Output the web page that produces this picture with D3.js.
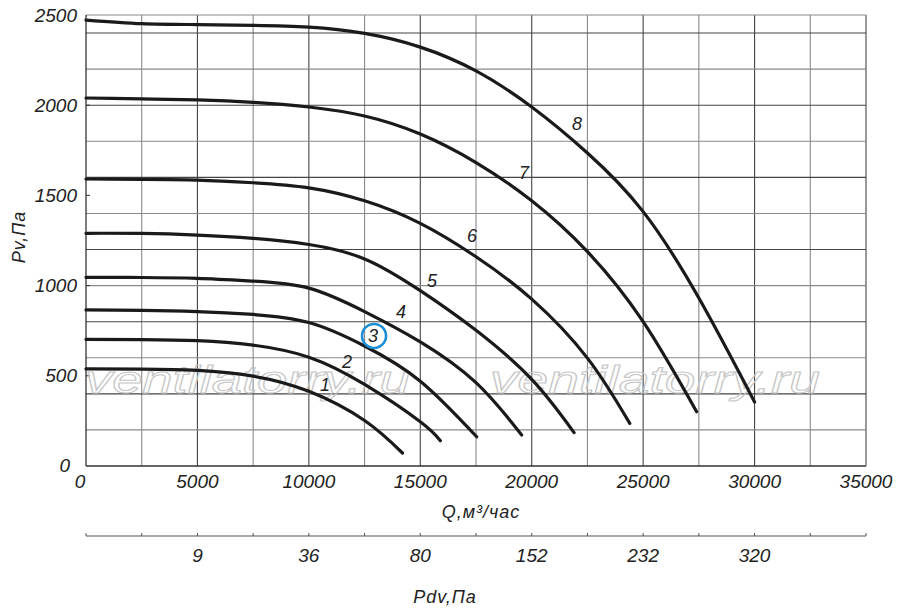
<!DOCTYPE html>
<html lang="ru">
<head>
<meta charset="UTF-8" />
<title>Pv-Q</title>
<script src="https://d3js.org/d3.v7.min.js"></script>
<style>
  body { margin: 0; background: #fff; }
  svg { display: block; }
  .lbl { font-family: "Liberation Sans", Arial, sans-serif; font-style: italic; fill: #222; }
</style>
</head>
<body>
<div id="chart"></div>
<script>
// Q axis (m3/h) and Pv (Pa)
const q8 = [0, 2500, 5000, 7500, 10000, 12500, 15000, 17500, 20000, 22500, 25000, 27500, 30000];
const p8 = [2472, 2452, 2447, 2443, 2433, 2398, 2322, 2190, 1990, 1735, 1410, 931, 355];
const q7 = [0, 2500, 5000, 7500, 10000, 12500, 15000, 17500, 20000, 22500, 25000, 27400];
const p7 = [2040, 2035, 2029, 2016, 1990, 1940, 1840, 1682, 1470, 1188, 800, 301];
const q6 = [0, 2500, 5000, 7500, 10000, 12500, 15000, 17500, 20000, 22500, 24400];
const p6 = [1591, 1589, 1585, 1570, 1542, 1470, 1345, 1160, 925, 598, 236];
const q5 = [0, 2500, 5000, 7500, 10000, 12500, 15000, 17500, 20000, 21900];
const p5 = [1290, 1289, 1280, 1262, 1228, 1148, 972, 752, 480, 185];
const q4 = [0, 2500, 5000, 7500, 10000, 12500, 15000, 17500, 19550];
const p4 = [1046, 1045, 1040, 1025, 986, 856, 688, 462, 172];
const q3 = [0, 2500, 5000, 7500, 10000, 12500, 15000, 17530];
const p3 = [865, 863, 856, 840, 795, 665, 470, 162];
const q2 = [0, 2500, 5000, 7500, 10000, 12500, 15000, 15900];
const p2 = [702, 701, 695, 670, 603, 452, 245, 140];
const q1 = [0, 2500, 5000, 7500, 10000, 12500, 14200];
const p1 = [538, 537, 530, 498, 414, 252, 72];

const curveNames = ["1", "2", "3", "4", "5", "6", "7", "8"];
const curveQ = [q1, q2, q3, q4, q5, q6, q7, q8];
const curveP = [p1, p2, p3, p4, p5, p6, p7, p8];
// where the number of each curve sits (Q, Pv)
const labelQ = [10720, 11710, 12880, 14130, 15530, 17320, 19650, 22030];
const labelP = [449, 576, 721, 854, 1025, 1275, 1624, 1896];

const qTicks = [0, 5000, 10000, 15000, 20000, 25000, 30000, 35000];
const pTicks = [0, 500, 1000, 1500, 2000, 2500];
const pdvAt = [5000, 10000, 15000, 20000, 25000, 30000];
const pdvText = ["9", "36", "80", "152", "232", "320"];

const W = 900, H = 609;
const svg = d3.select("#chart").append("svg")
    .attr("width", W).attr("height", H);

const x = d3.scaleLinear().domain([0, 35000]).range([86, 866]);
const y = d3.scaleLinear().domain([0, 2500]).range([466, 15]);

// grid
const grid = svg.append("g");
grid.selectAll("line.v")
    .data(d3.range(2500, 35001, 2500))
    .enter().append("line")
    .attr("x1", d => x(d)).attr("x2", d => x(d))
    .attr("y1", y(0)).attr("y2", y(2500))
    .attr("stroke", (d, i) => i % 2 ? "#444" : "#8a8a8a")
    .attr("stroke-width", 1.1);
grid.selectAll("line.h")
    .data(d3.range(200, 2401, 200).concat([2500]))
    .enter().append("line")
    .attr("x1", x(0)).attr("x2", x(35000))
    .attr("y1", d => y(d)).attr("y2", d => y(d))
    .attr("stroke", (d, i) => i % 2 ? "#444" : "#8a8a8a")
    .attr("stroke-width", 1.1);

// axes frame
svg.append("line").attr("x1", x(0)).attr("x2", x(0))
    .attr("y1", y(0)).attr("y2", y(2500)).attr("stroke", "#333").attr("stroke-width", 1.3);
svg.append("line").attr("x1", x(0)).attr("x2", x(35000))
    .attr("y1", y(0)).attr("y2", y(0)).attr("stroke", "#333").attr("stroke-width", 1.3);
svg.selectAll("line.yt")
    .data(pTicks.slice(1, -1))
    .enter().append("line")
    .attr("x1", x(0)).attr("x2", x(0) + 4)
    .attr("y1", d => y(d)).attr("y2", d => y(d))
    .attr("stroke", "#333");

// watermark
const wm = svg.append("g");
[[85, 410], [490, 820]].forEach(([a, b]) => {
  wm.append("text")
    .attr("x", a).attr("y", 393)
    .attr("textLength", b - a)
    .attr("lengthAdjust", "spacingAndGlyphs")
    .attr("font-family", "Liberation Sans, Arial, sans-serif")
    .attr("font-style", "italic")
    .attr("font-size", 39)
    .attr("fill", "none")
    .attr("stroke", "#c6c6c6")
    .attr("stroke-width", 1)
    .text("ventilatorry.ru");
});

// curves
const line = d3.line()
    .x(d => x(d[0])).y(d => y(d[1]))
    .curve(d3.curveNatural);
svg.append("g").selectAll("path")
    .data(curveQ.map((qs, i) => qs.map((q, j) => [q, curveP[i][j]])))
    .enter().append("path")
    .attr("d", line)
    .attr("fill", "none")
    .attr("stroke", "#1a1a1a")
    .attr("stroke-width", 3.2)
    .attr("stroke-linecap", "round");

// curve numbers
svg.append("g").selectAll("text")
    .data(curveNames)
    .enter().append("text")
    .attr("class", "lbl")
    .attr("x", (d, i) => x(labelQ[i]))
    .attr("y", (d, i) => y(labelP[i]))
    .attr("text-anchor", "middle")
    .attr("dominant-baseline", "central")
    .attr("font-size", 18)
    .text(d => d);
svg.append("circle")
    .attr("cx", x(labelQ[2]) + 1).attr("cy", y(labelP[2]))
    .attr("r", 12)
    .attr("fill", "none")
    .attr("stroke", "#1b8fd6")
    .attr("stroke-width", 2.6);

// tick labels
svg.append("g").selectAll("text")
    .data(pTicks)
    .enter().append("text")
    .attr("class", "lbl")
    .attr("x", d => d === 0 ? 70 : 77)
    .attr("y", d => y(d) + (d === 0 ? -1 : 0))
    .attr("text-anchor", "end")
    .attr("dominant-baseline", "central")
    .attr("font-size", 19)
    .text(d => d);
svg.append("g").selectAll("text")
    .data(qTicks)
    .enter().append("text")
    .attr("class", "lbl")
    .attr("x", d => d === 0 ? x(d) - 6 : x(d))
    .attr("y", 488)
    .attr("text-anchor", "middle")
    .attr("font-size", 19)
    .text(d => d);

// axis titles
svg.append("text").attr("class", "lbl")
    .attr("x", 481).attr("y", 518)
    .attr("text-anchor", "middle")
    .attr("font-size", 18)
    .attr("letter-spacing", 1)
    .text("Q,м³/час");
svg.append("text").attr("class", "lbl")
    .attr("transform", "translate(25,237) rotate(-90)")
    .attr("text-anchor", "middle")
    .attr("font-size", 18)
    .attr("letter-spacing", 1)
    .text("Pv,Па");

// Pdv axis
const pdvY = 536;
svg.append("line")
    .attr("x1", x(0)).attr("x2", x(35000))
    .attr("y1", pdvY).attr("y2", pdvY)
    .attr("stroke", "#555").attr("stroke-width", 1.2);
svg.append("g").selectAll("line")
    .data(d3.range(0, 35001, 2500))
    .enter().append("line")
    .attr("x1", d => x(d)).attr("x2", d => x(d))
    .attr("y1", pdvY).attr("y2", pdvY - 3)
    .attr("stroke", "#555");
svg.append("g").selectAll("text")
    .data(pdvText)
    .enter().append("text")
    .attr("class", "lbl")
    .attr("x", (d, i) => x(pdvAt[i]))
    .attr("y", 562)
    .attr("text-anchor", "middle")
    .attr("font-size", 19)
    .text(d => d);
svg.append("text").attr("class", "lbl")
    .attr("x", 445).attr("y", 603)
    .attr("text-anchor", "middle")
    .attr("font-size", 18)
    .attr("letter-spacing", 1)
    .text("Pdv,Па");
</script>
</body>
</html>
